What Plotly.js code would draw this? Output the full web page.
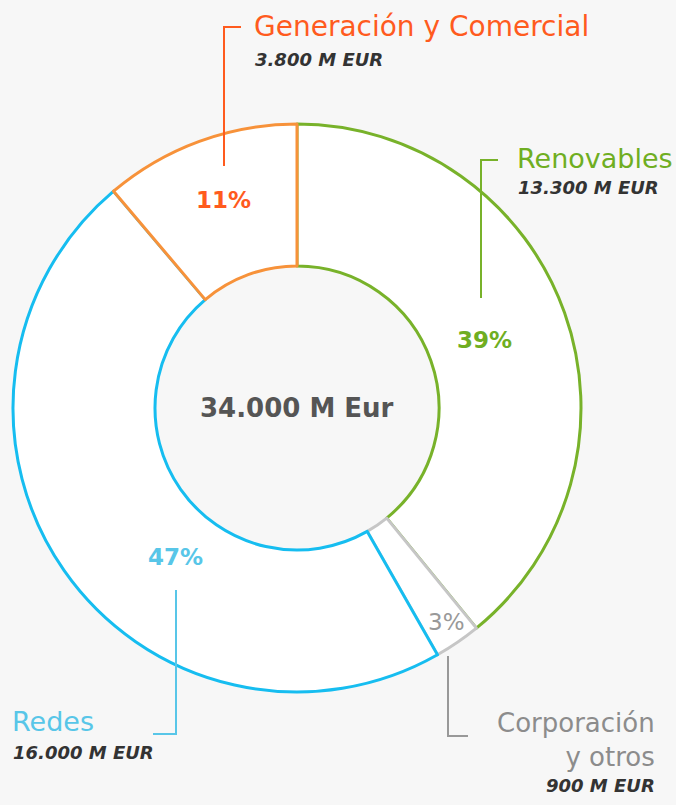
<!DOCTYPE html>
<html>
<head>
<meta charset="utf-8">
<script src="https://cdn.plot.ly/plotly-3.0.1.min.js"></script>
<style>html,body{margin:0;padding:0;background:#f7f7f7;}</style>
</head>
<body>
<div id="chart" style="width:676px;height:805px;"></div>
<script>
const categories = ["Renovables", "Corporación y otros", "Redes", "Generación y Comercial"];
const values = [13300, 900, 16000, 3800];
const amountLabels = ["13.300 M EUR", "900 M EUR", "16.000 M EUR", "3.800 M EUR"];
const totalLabel = "34.000 M Eur";
const ringColors = ["#78b22a", "#c6c6c6", "#16bdf0", "#f7923a"];
const textColors = ["#6fae22", "#8c8c8c", "#58c6e8", "#ff5b1e"];

const W = 676, H = 805;
const px = x => x / W;
const py = y => 1 - y / H;
const total = values.reduce((a, b) => a + b, 0);
const pct = values.map(v => Math.round(v / total * 100) + "%");

const FONT = "'DejaVu Sans', sans-serif";

const trace = {
  type: "pie",
  labels: categories,
  values: values,
  sort: false,
  direction: "clockwise",
  rotation: 0,
  hole: 0.5,
  textinfo: "none",
  hoverinfo: "none",
  marker: { colors: ["#ffffff", "#ffffff", "#ffffff", "#ffffff"], line: { color: ringColors, width: 3 } },
  domain: { x: [px(13), px(581)], y: [py(692), py(124)] },
  showlegend: false
};

function poly(pts, color) {
  return {
    type: "path", xref: "paper", yref: "paper",
    path: pts.map((p, i) => (i ? "L" : "M") + px(p[0]) + "," + py(p[1])).join(" "),
    line: { color: color, width: 2 }
  };
}
const shapeList = [
  poly([[224, 166], [224, 27], [241, 27]], textColors[3]),
  poly([[481, 298], [481, 160], [498, 160]], ringColors[0]),
  poly([[176, 590], [176, 734], [153, 734]], textColors[2]),
  poly([[448, 656], [448, 736], [468, 736]], "#999999")
];

function ann(text, x, y, anchor, font) {
  return {
    text: text, x: px(x), y: py(y), xref: "paper", yref: "paper",
    xanchor: anchor, yanchor: "middle", showarrow: false, align: anchor === "right" ? "right" : "left",
    font: Object.assign({ family: FONT }, font)
  };
}
const amountFont = { size: 18, color: "#333333", style: "italic", weight: 700 };
const titleFont = (c, s) => ({ size: s || 27, color: c, weight: 400 });
const pctFont = (c) => ({ size: 23, color: c, weight: 700 });

const annotations = [
  ann(categories[3], 252, 27, "left", titleFont(textColors[3], 28)),
  ann(amountLabels[3], 253, 59, "left", amountFont),
  ann(categories[0], 515, 158, "left", titleFont(textColors[0])),
  ann(amountLabels[0], 516, 188, "left", amountFont),
  ann(categories[2], 10, 721, "left", titleFont(textColors[2])),
  ann(amountLabels[2], 11, 752, "left", amountFont),
  ann("Corporación<br>y otros", 657, 740, "right", { size: 26, color: textColors[1], weight: 400 }),
  ann(amountLabels[1], 657, 785, "right", amountFont),
  ann(totalLabel, 297, 408, "center", { size: 26, color: "#555555", weight: 700 }),
  ann(pct[0], 484, 340, "center", pctFont(textColors[0])),
  ann(pct[3], 223, 200, "center", pctFont(textColors[3])),
  ann(pct[2], 175, 557, "center", pctFont(textColors[2])),
  ann(pct[1], 446, 622, "center", { size: 23, color: "#999999", weight: 400 })
];

const layout = {
  width: W, height: H,
  margin: { l: 0, r: 0, t: 0, b: 0 },
  paper_bgcolor: "#f7f7f7",
  plot_bgcolor: "#f7f7f7",
  shapes: shapeList,
  annotations: annotations
};

Plotly.newPlot("chart", [trace], layout, { displayModeBar: false, staticPlot: true });
</script>
</body>
</html>
